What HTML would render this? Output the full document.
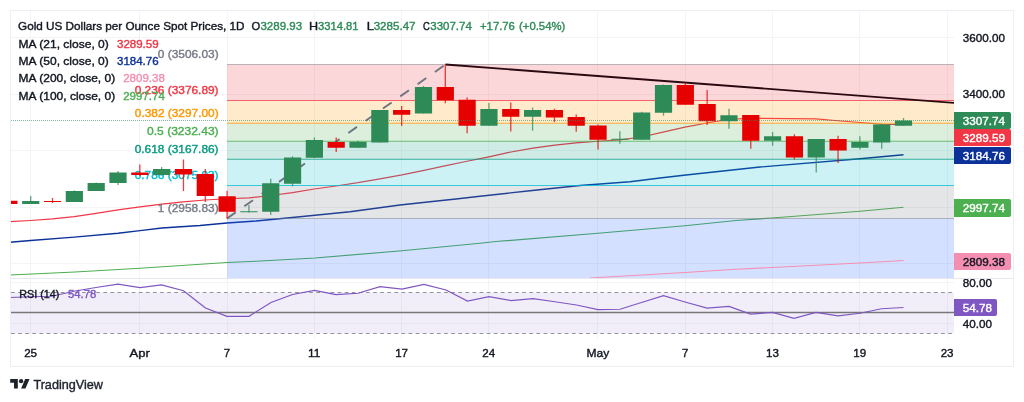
<!DOCTYPE html>
<html><head><meta charset="utf-8"><title>Gold chart</title>
<style>
html,body{margin:0;padding:0;background:#fff;}
body{width:1024px;height:402px;overflow:hidden;}
text{stroke-width:0.4px;paint-order:stroke;}
svg{display:block;font-family:"Liberation Sans",Arial,sans-serif;font-size:11.8px;}
</style></head><body>
<svg width="1024" height="402" viewBox="0 0 1024 402">
<rect width="1024" height="402" fill="#fff"/>
<g stroke="#f3f4f6" stroke-width="1" shape-rendering="crispEdges">
<line x1="30.5" y1="11" x2="30.5" y2="339"/>
<line x1="139.5" y1="11" x2="139.5" y2="339"/>
<line x1="227.5" y1="11" x2="227.5" y2="339"/>
<line x1="314.5" y1="11" x2="314.5" y2="339"/>
<line x1="401.5" y1="11" x2="401.5" y2="339"/>
<line x1="488.5" y1="11" x2="488.5" y2="339"/>
<line x1="597.5" y1="11" x2="597.5" y2="339"/>
<line x1="685.5" y1="11" x2="685.5" y2="339"/>
<line x1="772.5" y1="11" x2="772.5" y2="339"/>
<line x1="859.5" y1="11" x2="859.5" y2="339"/>
<line x1="947.5" y1="11" x2="947.5" y2="339"/>
<line x1="11" y1="37.5" x2="954" y2="37.5"/>
<line x1="11" y1="94.5" x2="954" y2="94.5"/>
<line x1="11" y1="150.5" x2="954" y2="150.5"/>
<line x1="11" y1="207.5" x2="954" y2="207.5"/>
<line x1="11" y1="263.5" x2="954" y2="263.5"/>
<line x1="11" y1="282.5" x2="954" y2="282.5"/>
<line x1="11" y1="323.5" x2="954" y2="323.5"/>
</g>
<polyline points="10.00,275.00 75.00,272.00 140.00,268.25 227.00,262.50 256.00,261.25 315.00,258.00 402.00,250.75 480.00,243.25 496.00,241.50 598.00,233.25 685.00,225.75 736.00,220.50 772.00,218.00 860.00,211.25 903.50,207.25" fill="none" stroke="#4caf50" stroke-width="1.2"/>
<polyline points="10.00,242.30 30.60,240.50 74.30,237.10 118.00,233.30 140.00,230.60 162.00,228.00 200.00,225.50 227.00,223.00 256.00,221.00 300.00,216.75 350.00,211.75 400.00,205.00 430.00,201.75 456.00,199.00 480.00,196.25 530.00,190.75 580.00,185.50 630.00,181.75 660.00,178.00 686.00,175.00 760.00,167.00 860.00,158.75 903.50,154.75" fill="none" stroke="#0c3299" stroke-width="1.4"/>
<polyline points="10.00,221.60 30.60,220.50 52.40,218.90 74.30,216.60 96.00,213.40 118.00,209.80 140.00,206.80 162.00,204.20 183.00,201.80 205.00,200.00 227.00,198.75 249.00,197.80 271.00,195.50 292.50,192.70 314.30,189.00 336.00,186.00 358.00,182.70 380.00,178.80 402.00,174.90 424.00,170.40 446.00,165.70 467.00,161.25 489.00,156.80 511.00,152.00 533.00,148.10 555.00,145.20 576.00,142.80 598.00,141.25 620.00,139.90 641.60,137.00 663.00,132.20 685.00,127.20 707.00,123.00 729.00,119.25 750.00,118.40 816.00,118.80 838.00,120.75 860.00,122.50 881.00,124.25 903.50,124.60" fill="none" stroke="#f23645" stroke-width="1.25"/>
<rect x="227" y="64.5" width="727" height="36.0" fill="rgba(242,54,69,0.2)"/>
<rect x="227" y="100.5" width="727" height="22.75" fill="rgba(255,152,0,0.2)"/>
<rect x="227" y="123.25" width="727" height="18.0" fill="rgba(76,175,80,0.2)"/>
<rect x="227" y="141.25" width="727" height="18.0" fill="rgba(8,153,129,0.2)"/>
<rect x="227" y="159.25" width="727" height="26.25" fill="rgba(0,188,212,0.2)"/>
<rect x="227" y="185.5" width="727" height="33.0" fill="rgba(120,123,134,0.2)"/>
<rect x="227" y="218.5" width="727" height="59.5" fill="rgba(41,98,255,0.2)"/>
<line x1="227" y1="64.5" x2="954" y2="64.5" stroke="#787b86" stroke-opacity="0.5" stroke-width="1.2"/>
<line x1="227" y1="100.5" x2="954" y2="100.5" stroke="#f23645" stroke-opacity="0.75" stroke-width="1.2"/>
<line x1="227" y1="123.25" x2="954" y2="123.25" stroke="#ff9800" stroke-opacity="0.75" stroke-width="1.2"/>
<line x1="227" y1="141.25" x2="954" y2="141.25" stroke="#4caf50" stroke-opacity="0.75" stroke-width="1.2"/>
<line x1="227" y1="159.25" x2="954" y2="159.25" stroke="#089981" stroke-opacity="0.75" stroke-width="1.2"/>
<line x1="227" y1="185.5" x2="954" y2="185.5" stroke="#00bcd4" stroke-opacity="0.75" stroke-width="1.2"/>
<line x1="227" y1="218.5" x2="954" y2="218.5" stroke="#787b86" stroke-opacity="0.5" stroke-width="1.2"/>
<text x="218.6" y="58.2" text-anchor="end" fill="#787b86" stroke="#787b86" textLength="60.8" lengthAdjust="spacingAndGlyphs">0 (3506.03)</text>
<text x="218.6" y="94.2" text-anchor="end" fill="#f23645" stroke="#f23645" textLength="83.9" lengthAdjust="spacingAndGlyphs">0.236 (3376.89)</text>
<text x="218.6" y="117.0" text-anchor="end" fill="#ff9800" stroke="#ff9800" textLength="83.75" lengthAdjust="spacingAndGlyphs">0.382 (3297.00)</text>
<text x="218.6" y="134.9" text-anchor="end" fill="#4caf50" stroke="#4caf50" textLength="71.5" lengthAdjust="spacingAndGlyphs">0.5 (3232.43)</text>
<text x="218.6" y="152.9" text-anchor="end" fill="#089981" stroke="#089981" textLength="83.9" lengthAdjust="spacingAndGlyphs">0.618 (3167.86)</text>
<text x="218.6" y="179.2" text-anchor="end" fill="#00bcd4" stroke="#00bcd4" textLength="83.9" lengthAdjust="spacingAndGlyphs">0.786 (3075.93)</text>
<text x="218.6" y="212.2" text-anchor="end" fill="#787b86" stroke="#787b86" textLength="60.8" lengthAdjust="spacingAndGlyphs">1 (2958.83)</text>
<line x1="227" y1="218.5" x2="445.5" y2="64.5" stroke="#70737e" stroke-width="1.9" stroke-dasharray="10.6 10.6"/>
<line x1="445.5" y1="64.5" x2="954" y2="102.8" stroke="#2a0a10" stroke-width="1.85"/>
<polyline points="590.00,278.00 685.00,272.50 736.00,269.25 772.00,267.50 860.00,263.00 903.50,260.50" fill="none" stroke="#f48fb1" stroke-width="1.2"/>
<clipPath id="cp"><rect x="10.5" y="11" width="943.5" height="267"/></clipPath><g clip-path="url(#cp)">
<rect x="8.25" y="200.75" width="1.3" height="3.25" fill="#e60000" fill-opacity="0.75"/><rect x="0.30" y="200.75" width="17.2" height="3.25" fill="#e60000"/>
<rect x="30.07" y="196" width="1.3" height="8" fill="#2e8b57" fill-opacity="0.75"/><rect x="22.12" y="201" width="17.2" height="3" fill="#2e8b57"/>
<rect x="51.89" y="198" width="1.3" height="5" fill="#e60000" fill-opacity="0.75"/><rect x="43.94" y="201" width="17.2" height="1.0" fill="#e60000"/>
<rect x="73.71" y="190.5" width="1.3" height="11.5" fill="#2e8b57" fill-opacity="0.75"/><rect x="65.76" y="191" width="17.2" height="11" fill="#2e8b57"/>
<rect x="95.53" y="182.5" width="1.3" height="8.5" fill="#2e8b57" fill-opacity="0.75"/><rect x="87.58" y="183" width="17.2" height="8" fill="#2e8b57"/>
<rect x="117.35" y="171" width="1.3" height="14" fill="#2e8b57" fill-opacity="0.75"/><rect x="109.40" y="172.5" width="17.2" height="10.5" fill="#2e8b57"/>
<rect x="139.17" y="164.5" width="1.3" height="11.5" fill="#e60000" fill-opacity="0.75"/><rect x="131.22" y="172.5" width="17.2" height="2.5" fill="#e60000"/>
<rect x="160.99" y="167" width="1.3" height="8.5" fill="#2e8b57" fill-opacity="0.75"/><rect x="153.04" y="169" width="17.2" height="6" fill="#2e8b57"/>
<rect x="182.81" y="159.5" width="1.3" height="31.5" fill="#e60000" fill-opacity="0.75"/><rect x="174.86" y="169" width="17.2" height="5.5" fill="#e60000"/>
<rect x="204.63" y="169" width="1.3" height="33" fill="#e60000" fill-opacity="0.75"/><rect x="196.68" y="174" width="17.2" height="22" fill="#e60000"/>
<rect x="226.45" y="190.75" width="1.3" height="28.0" fill="#e60000" fill-opacity="0.75"/><rect x="218.50" y="196.25" width="17.2" height="15.5" fill="#e60000"/>
<rect x="248.27" y="205" width="1.3" height="7.5" fill="#2e8b57" fill-opacity="0.75"/><rect x="240.32" y="211.25" width="17.2" height="1.0" fill="#2e8b57"/>
<rect x="270.09" y="178.75" width="1.3" height="36.25" fill="#2e8b57" fill-opacity="0.75"/><rect x="262.14" y="183.25" width="17.2" height="28.5" fill="#2e8b57"/>
<rect x="291.91" y="156.25" width="1.3" height="30.0" fill="#2e8b57" fill-opacity="0.75"/><rect x="283.96" y="157.5" width="17.2" height="26.25" fill="#2e8b57"/>
<rect x="313.73" y="137.5" width="1.3" height="20.5" fill="#2e8b57" fill-opacity="0.75"/><rect x="305.78" y="140" width="17.2" height="17.75" fill="#2e8b57"/>
<rect x="335.55" y="137.5" width="1.3" height="14.5" fill="#e60000" fill-opacity="0.75"/><rect x="327.60" y="142" width="17.2" height="5.75" fill="#e60000"/>
<rect x="357.37" y="140.75" width="1.3" height="7.25" fill="#2e8b57" fill-opacity="0.75"/><rect x="349.42" y="141.75" width="17.2" height="6.0" fill="#2e8b57"/>
<rect x="379.19" y="110" width="1.3" height="32.5" fill="#2e8b57" fill-opacity="0.75"/><rect x="371.24" y="110" width="17.2" height="32.5" fill="#2e8b57"/>
<rect x="401.01" y="106" width="1.3" height="20" fill="#e60000" fill-opacity="0.75"/><rect x="393.06" y="110" width="17.2" height="4.75" fill="#e60000"/>
<rect x="422.83" y="86" width="1.3" height="27.5" fill="#2e8b57" fill-opacity="0.75"/><rect x="414.88" y="87" width="17.2" height="26.5" fill="#2e8b57"/>
<rect x="444.65" y="64.5" width="1.3" height="38.75" fill="#e60000" fill-opacity="0.75"/><rect x="436.70" y="87" width="17.2" height="13.25" fill="#e60000"/>
<rect x="466.47" y="97.5" width="1.3" height="35.75" fill="#e60000" fill-opacity="0.75"/><rect x="458.52" y="99.75" width="17.2" height="26.0" fill="#e60000"/>
<rect x="488.29" y="103" width="1.3" height="22.75" fill="#2e8b57" fill-opacity="0.75"/><rect x="480.34" y="109" width="17.2" height="16.75" fill="#2e8b57"/>
<rect x="510.11" y="102.5" width="1.3" height="29.0" fill="#e60000" fill-opacity="0.75"/><rect x="502.16" y="109" width="17.2" height="7.75" fill="#e60000"/>
<rect x="531.93" y="107.5" width="1.3" height="23.25" fill="#2e8b57" fill-opacity="0.75"/><rect x="523.98" y="110" width="17.2" height="6.75" fill="#2e8b57"/>
<rect x="553.75" y="108.75" width="1.3" height="13.25" fill="#e60000" fill-opacity="0.75"/><rect x="545.80" y="110" width="17.2" height="7.5" fill="#e60000"/>
<rect x="575.57" y="114.5" width="1.3" height="17.25" fill="#e60000" fill-opacity="0.75"/><rect x="567.62" y="117" width="17.2" height="8.75" fill="#e60000"/>
<rect x="597.39" y="124.5" width="1.3" height="25.0" fill="#e60000" fill-opacity="0.75"/><rect x="589.44" y="125.5" width="17.2" height="14.25" fill="#e60000"/>
<rect x="619.21" y="131.25" width="1.3" height="12.5" fill="#2e8b57" fill-opacity="0.75"/><rect x="611.26" y="138.75" width="17.2" height="1.0" fill="#2e8b57"/>
<rect x="641.03" y="111.75" width="1.3" height="28.0" fill="#2e8b57" fill-opacity="0.75"/><rect x="633.08" y="112.5" width="17.2" height="27.25" fill="#2e8b57"/>
<rect x="662.85" y="84.5" width="1.3" height="31.25" fill="#2e8b57" fill-opacity="0.75"/><rect x="654.90" y="85" width="17.2" height="27.75" fill="#2e8b57"/>
<rect x="684.67" y="82.5" width="1.3" height="22.25" fill="#e60000" fill-opacity="0.75"/><rect x="676.72" y="85" width="17.2" height="19.75" fill="#e60000"/>
<rect x="706.49" y="90" width="1.3" height="35" fill="#e60000" fill-opacity="0.75"/><rect x="698.54" y="104" width="17.2" height="17.25" fill="#e60000"/>
<rect x="728.31" y="108.75" width="1.3" height="20.0" fill="#2e8b57" fill-opacity="0.75"/><rect x="720.36" y="115.25" width="17.2" height="6.0" fill="#2e8b57"/>
<rect x="750.13" y="115" width="1.3" height="33.75" fill="#e60000" fill-opacity="0.75"/><rect x="742.18" y="115" width="17.2" height="25.75" fill="#e60000"/>
<rect x="771.95" y="132" width="1.3" height="13.75" fill="#2e8b57" fill-opacity="0.75"/><rect x="764.00" y="136.25" width="17.2" height="4.5" fill="#2e8b57"/>
<rect x="793.77" y="134.25" width="1.3" height="25.25" fill="#e60000" fill-opacity="0.75"/><rect x="785.82" y="136.25" width="17.2" height="21.25" fill="#e60000"/>
<rect x="815.59" y="139" width="1.3" height="33.5" fill="#2e8b57" fill-opacity="0.75"/><rect x="807.64" y="139" width="17.2" height="18.5" fill="#2e8b57"/>
<rect x="837.41" y="135.75" width="1.3" height="27.25" fill="#e60000" fill-opacity="0.75"/><rect x="829.46" y="139" width="17.2" height="11.5" fill="#e60000"/>
<rect x="859.23" y="136.25" width="1.3" height="13.25" fill="#2e8b57" fill-opacity="0.75"/><rect x="851.28" y="142" width="17.2" height="5.75" fill="#2e8b57"/>
<rect x="881.05" y="123.75" width="1.3" height="25.0" fill="#2e8b57" fill-opacity="0.75"/><rect x="873.10" y="124.5" width="17.2" height="18.0" fill="#2e8b57"/>
<rect x="902.87" y="118" width="1.3" height="7.75" fill="#2e8b57" fill-opacity="0.75"/><rect x="894.92" y="120.5" width="17.2" height="5.25" fill="#2e8b57"/>
</g>
<line x1="11" y1="120.5" x2="954" y2="120.5" stroke="#2e8b57" stroke-opacity="0.6" stroke-width="1" stroke-dasharray="1 1" shape-rendering="crispEdges"/>
<line x1="11" y1="278.5" x2="1013" y2="278.5" stroke="#e6e9f0" stroke-width="1" shape-rendering="crispEdges"/>
<rect x="11" y="292.5" width="943" height="41" fill="rgba(126,87,194,0.1)"/>
<g stroke="#90939c" stroke-width="1.1" stroke-dasharray="3.7 3.4"><line x1="11" y1="292.5" x2="954" y2="292.5"/><line x1="11" y1="333.5" x2="954" y2="333.5"/></g>
<line x1="11" y1="312.5" x2="954" y2="312.5" stroke="#777777" stroke-width="1.6"/>
<polyline points="10.00,297.50 30.00,296.75 52.00,296.25 74.00,291.25 96.00,287.50 118.00,284.25 140.00,287.50 161.50,285.00 183.50,290.75 205.50,308.00 227.00,316.25 249.00,316.25 271.00,302.50 292.50,294.50 314.50,290.50 336.00,294.50 358.00,293.25 380.00,286.75 402.00,289.00 424.00,284.50 446.00,290.00 467.50,301.00 489.00,296.75 511.00,300.50 533.00,298.75 555.00,301.75 576.50,305.00 598.00,309.50 620.00,309.25 641.50,302.50 663.50,295.75 685.00,302.00 707.00,308.00 729.00,306.40 750.50,314.00 772.50,312.50 794.00,318.25 816.00,312.50 838.00,315.75 860.00,313.25 881.50,308.75 903.50,307.50" fill="none" stroke="#7e57c2" stroke-width="1.25"/>
<rect x="10.5" y="10.5" width="1003" height="356" fill="none" stroke="#edeff4" stroke-width="1" shape-rendering="crispEdges"/>
<text x="962.8" y="41.7" fill="#131722" stroke="#131722" textLength="42.2" lengthAdjust="spacingAndGlyphs">3600.00</text>
<text x="962.8" y="98.2" fill="#131722" stroke="#131722" textLength="42.2" lengthAdjust="spacingAndGlyphs">3400.00</text>
<path d="M954 112H1009a2 2 0 0 1 2 2V127a2 2 0 0 1 -2 2H954Z" fill="#2e8b57"/>
<text x="962.8" y="124.8" fill="#fff" stroke="#fff" textLength="42.2" lengthAdjust="spacingAndGlyphs">3307.74</text>
<path d="M954 129H1009a2 2 0 0 1 2 2V144a2 2 0 0 1 -2 2H954Z" fill="#f23645"/>
<text x="962.8" y="141.8" fill="#fff" stroke="#fff" textLength="42.2" lengthAdjust="spacingAndGlyphs">3289.59</text>
<path d="M954 147H1009a2 2 0 0 1 2 2V162a2 2 0 0 1 -2 2H954Z" fill="#0c3299"/>
<text x="962.8" y="159.8" fill="#fff" stroke="#fff" textLength="42.2" lengthAdjust="spacingAndGlyphs">3184.76</text>
<path d="M954 199H1009a2 2 0 0 1 2 2V215a2 2 0 0 1 -2 2H954Z" fill="#4caf50"/>
<text x="962.8" y="212.3" fill="#fff" stroke="#fff" textLength="42.2" lengthAdjust="spacingAndGlyphs">2997.74</text>
<path d="M954 253H1009a2 2 0 0 1 2 2V268a2 2 0 0 1 -2 2H954Z" fill="#f48fb1"/>
<text x="962.8" y="265.8" fill="#131722" stroke="#131722" textLength="42.2" lengthAdjust="spacingAndGlyphs">2809.38</text>
<clipPath id="cr"><rect x="954" y="279" width="60" height="60"/></clipPath>
<g clip-path="url(#cr)"><text x="962.8" y="286.6" fill="#131722" stroke="#131722" textLength="29.2" lengthAdjust="spacingAndGlyphs">80.00</text></g>
<text x="962.8" y="327.6" fill="#131722" stroke="#131722" textLength="29.2" lengthAdjust="spacingAndGlyphs">40.00</text>
<path d="M954 299H995a2 2 0 0 1 2 2V314a2 2 0 0 1 -2 2H954Z" fill="#7e57c2"/>
<text x="962.8" y="311.8" fill="#fff" stroke="#fff" textLength="29.2" lengthAdjust="spacingAndGlyphs">54.78</text>
<text x="30.6" y="357.1" text-anchor="middle" fill="#131722" stroke="#131722" textLength="12.9" lengthAdjust="spacingAndGlyphs">25</text>
<text x="139.7" y="357.1" text-anchor="middle" fill="#131722" stroke="#131722" textLength="20.3" lengthAdjust="spacingAndGlyphs" style="stroke-width:0.4px">Apr</text>
<text x="227.0" y="357.1" text-anchor="middle" fill="#131722" stroke="#131722" textLength="6.3" lengthAdjust="spacingAndGlyphs">7</text>
<text x="314.3" y="357.1" text-anchor="middle" fill="#131722" stroke="#131722" textLength="12.4" lengthAdjust="spacingAndGlyphs">11</text>
<text x="401.6" y="357.1" text-anchor="middle" fill="#131722" stroke="#131722" textLength="12.9" lengthAdjust="spacingAndGlyphs">17</text>
<text x="488.8" y="357.1" text-anchor="middle" fill="#131722" stroke="#131722" textLength="12.9" lengthAdjust="spacingAndGlyphs">24</text>
<text x="597.9" y="357.1" text-anchor="middle" fill="#131722" stroke="#131722" textLength="22.7" lengthAdjust="spacingAndGlyphs" style="stroke-width:0.4px">May</text>
<text x="685.2" y="357.1" text-anchor="middle" fill="#131722" stroke="#131722" textLength="6.3" lengthAdjust="spacingAndGlyphs">7</text>
<text x="772.5" y="357.1" text-anchor="middle" fill="#131722" stroke="#131722" textLength="12.9" lengthAdjust="spacingAndGlyphs">13</text>
<text x="859.8" y="357.1" text-anchor="middle" fill="#131722" stroke="#131722" textLength="12.9" lengthAdjust="spacingAndGlyphs">19</text>
<text x="947.1" y="357.1" text-anchor="middle" fill="#131722" stroke="#131722" textLength="12.9" lengthAdjust="spacingAndGlyphs">23</text>
<text x="18.1" y="30.0" fill="#131722" stroke="#131722" textLength="226.40" lengthAdjust="spacingAndGlyphs" xml:space="preserve">Gold US Dollars per Ounce Spot Prices, 1D</text>
<text x="251.6" y="30.0" fill="#131722" stroke="#131722" textLength="8.70" lengthAdjust="spacingAndGlyphs" xml:space="preserve">O</text>
<text x="260.45" y="30.0" fill="#2e8b57" stroke="#2e8b57" textLength="41.60" lengthAdjust="spacingAndGlyphs" xml:space="preserve">3289.93</text>
<text x="308.9" y="30.0" fill="#131722" stroke="#131722" textLength="9.10" lengthAdjust="spacingAndGlyphs" xml:space="preserve">H</text>
<text x="318.0" y="30.0" fill="#2e8b57" stroke="#2e8b57" textLength="40.60" lengthAdjust="spacingAndGlyphs" xml:space="preserve">3314.81</text>
<text x="366.75" y="30.0" fill="#131722" stroke="#131722" textLength="7.15" lengthAdjust="spacingAndGlyphs" xml:space="preserve">L</text>
<text x="373.65" y="30.0" fill="#2e8b57" stroke="#2e8b57" textLength="41.90" lengthAdjust="spacingAndGlyphs" xml:space="preserve">3285.47</text>
<text x="422.97" y="30.0" fill="#131722" stroke="#131722" textLength="6.83" lengthAdjust="spacingAndGlyphs" xml:space="preserve">C</text>
<text x="430.25" y="30.0" fill="#2e8b57" stroke="#2e8b57" textLength="41.65" lengthAdjust="spacingAndGlyphs" xml:space="preserve">3307.74</text>
<text x="480.0" y="30.0" fill="#2e8b57" stroke="#2e8b57" textLength="34.90" lengthAdjust="spacingAndGlyphs" xml:space="preserve">+17.76</text>
<text x="519.0" y="30.0" fill="#2e8b57" stroke="#2e8b57" textLength="46.30" lengthAdjust="spacingAndGlyphs" xml:space="preserve">(+0.54%)</text>
<text x="18.6" y="47.6" fill="#131722" stroke="#131722" textLength="90.15" lengthAdjust="spacingAndGlyphs" xml:space="preserve">MA (21, close, 0)</text>
<text x="117" y="47.6" fill="#f23645" stroke="#f23645" textLength="41.60" lengthAdjust="spacingAndGlyphs" xml:space="preserve">3289.59</text>
<text x="18.6" y="65" fill="#131722" stroke="#131722" textLength="90.15" lengthAdjust="spacingAndGlyphs" xml:space="preserve">MA (50, close, 0)</text>
<text x="117" y="65" fill="#0c3299" stroke="#0c3299" textLength="41.60" lengthAdjust="spacingAndGlyphs" xml:space="preserve">3184.76</text>
<text x="18.6" y="82.4" fill="#131722" stroke="#131722" textLength="96.60" lengthAdjust="spacingAndGlyphs" xml:space="preserve">MA (200, close, 0)</text>
<text x="123.2" y="82.4" fill="#f48fb1" stroke="#f48fb1" textLength="41.60" lengthAdjust="spacingAndGlyphs" xml:space="preserve">2809.38</text>
<text x="18.6" y="99.8" fill="#131722" stroke="#131722" textLength="96.60" lengthAdjust="spacingAndGlyphs" xml:space="preserve">MA (100, close, 0)</text>
<text x="123.2" y="99.8" fill="#4caf50" stroke="#4caf50" textLength="41.60" lengthAdjust="spacingAndGlyphs" xml:space="preserve">2997.74</text>
<text x="19.3" y="298" fill="#131722" stroke="#131722" textLength="40.00" lengthAdjust="spacingAndGlyphs" xml:space="preserve">RSI (14)</text>
<text x="68" y="298" fill="#7e57c2" stroke="#7e57c2" textLength="28.30" lengthAdjust="spacingAndGlyphs" xml:space="preserve">54.78</text>
<g transform="translate(10.2,377) scale(0.545,0.52)" fill="#1e222d"><path d="M14 22H7V11H0V4h14v18zM28 22h-8l7.5-18h8L28 22z"/><circle cx="20" cy="8" r="4"/></g>
<text x="33.4" y="388.8" fill="#1e222d" stroke="#1e222d" font-size="13" textLength="69.6" lengthAdjust="spacingAndGlyphs">TradingView</text>
</svg></body></html>
